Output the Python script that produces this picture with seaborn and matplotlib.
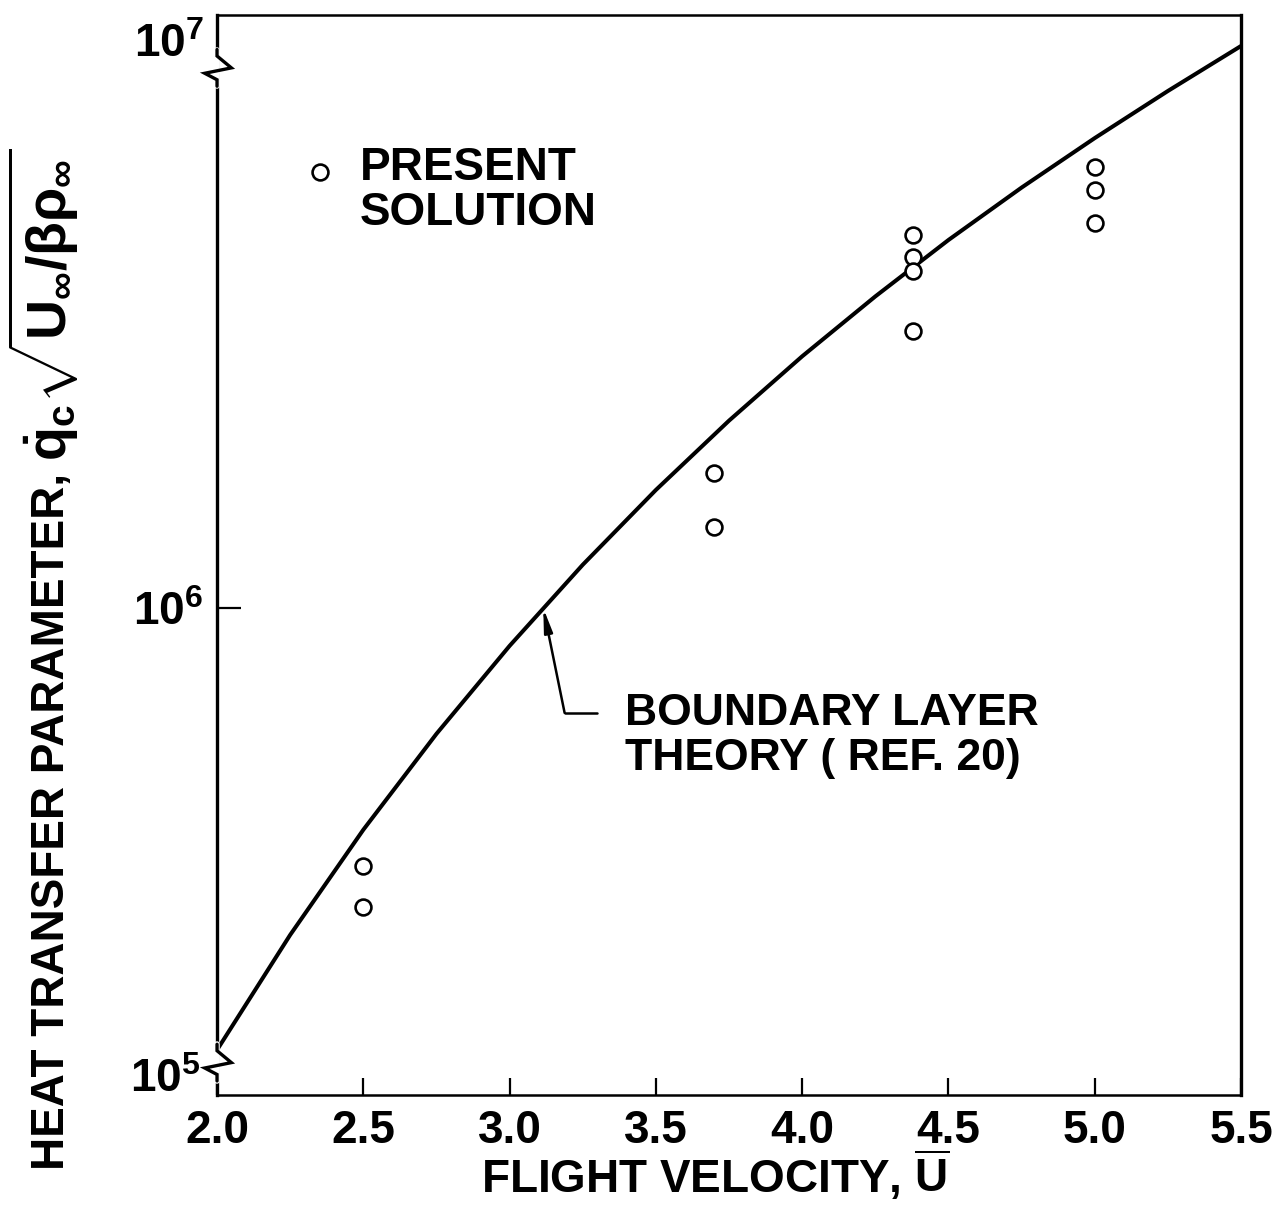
import numpy as np
import pandas as pd
import matplotlib
matplotlib.use("Agg")
import matplotlib.pyplot as plt
import seaborn as sns

# Boundary layer theory curve (Ref. 20)
theory_u = [2.0, 2.25, 2.5, 2.75, 3.0, 3.25, 3.5, 3.75, 4.0, 4.25,
            4.5, 4.75, 5.0, 5.25, 5.5]
theory_q = [1.28e5, 2.186e5, 3.565e5, 5.57e5, 8.387e5, 1.223e6, 1.732e6, 2.391e6,
            3.225e6, 4.261e6, 5.54e6, 7.07e6, 8.90e6, 1.108e7, 1.366e7]

# Present solution points
present_u = [2.5, 2.5, 3.7, 3.7, 4.38, 4.38, 4.38, 4.38, 5.0, 5.0, 5.0]
present_q = [3.01e5, 2.49e5, 1.87e6, 1.46e6, 5.67e6, 5.12e6, 4.80e6, 3.63e6, 7.78e6, 6.99e6, 6.0e6]

x_ticks = [2.0, 2.5, 3.0, 3.5, 4.0, 4.5, 5.0, 5.5]
x_tick_labels = ["2.0", "2.5", "3.0", "3.5", "4.0", "4.5", "5.0", "5.5"]

sns.set_style("ticks")
plt.rcParams["font.family"] = ["Liberation Sans", "DejaVu Sans"]
plt.rcParams["font.weight"] = "bold"
plt.rcParams["axes.labelweight"] = "bold"
plt.rcParams["mathtext.fontset"] = "custom"
plt.rcParams["mathtext.rm"] = "Liberation Sans:bold"
plt.rcParams["mathtext.it"] = "Liberation Sans:bold"
plt.rcParams["mathtext.bf"] = "Liberation Sans:bold"
for key in ["text.color", "axes.labelcolor", "xtick.color", "ytick.color"]:
    plt.rcParams[key] = "black"

fig = plt.figure(figsize=(12.85, 12.16), dpi=100)
ax = fig.add_axes([0.1689, 0.0995, 0.7969, 0.8882])

theory = pd.DataFrame({"u": theory_u, "q": theory_q})
present = pd.DataFrame({"u": present_u, "q": present_q})

sns.lineplot(data=theory, x="u", y="q", ax=ax, color="black", lw=2.9,
             sort=False, estimator=None)
sns.scatterplot(data=present, x="u", y="q", ax=ax, marker="o", s=130,
                facecolor="white", edgecolor="black", linewidth=1.9, zorder=5)

ax.set_yscale("log")
ax.set_xlim(2.0, 5.5)
ax.set_ylim(1.038e5, 1.578e7)

ax.set_xticks(x_ticks)
ax.set_xticklabels(x_tick_labels)
ax.set_yticks([1e6])
ax.set_yticklabels([r"$10^6$"])
ax.yaxis.set_minor_locator(matplotlib.ticker.NullLocator())
ax.tick_params(axis="x", direction="in", length=12, width=1.6, labelsize=33, pad=10)
ax.tick_params(axis="y", direction="in", length=17, width=1.6, labelsize=33, pad=10)

for side, lw in [("left", 2.4), ("right", 2.4), ("top", 1.8), ("bottom", 1.8)]:
    ax.spines[side].set_visible(True)
    ax.spines[side].set_linewidth(lw)
    ax.spines[side].set_color("black")

# Broken-scale marks on the left axis with the end decade labels
def axis_break(yc):
    xs = [0.0, 0.0, 0.014, -0.012, 0.0, 0.0]
    ys = [yc + 0.018, yc + 0.012, yc + 0.001, yc - 0.004, yc - 0.010, yc - 0.016]
    ax.plot([0, 0], [yc - 0.016, yc + 0.018], transform=ax.transAxes, color="white",
            lw=4, clip_on=False, zorder=6)
    ax.plot(xs, ys, transform=ax.transAxes, color="black", lw=2.4,
            clip_on=False, zorder=7, solid_joinstyle="miter")

axis_break(0.950)
axis_break(0.029)
ax.text(-0.013, 0.972, r"$10^7$", transform=ax.transAxes, ha="right", va="center",
        fontsize=33)
ax.text(-0.016, 0.014, r"$10^5$", transform=ax.transAxes, ha="right", va="center",
        fontsize=33)

ax.set_xlabel(r"FLIGHT VELOCITY, $\overline{\mathrm{U}}$", fontsize=33)
ax.xaxis.set_label_coords(0.486, -0.050)
ax.set_ylabel("")

# Vertical axis title: words plus a larger formula part
t1 = fig.text(0.050, 1 - 1170 / 1216, "HEAT TRANSFER PARAMETER,", rotation=90,
              rotation_mode="anchor", ha="left", va="baseline", fontsize=33,
              fontweight="bold")
bb = t1.get_window_extent(renderer=fig.canvas.get_renderer())
t2 = fig.text(0.034, (bb.y1 + 12) / fig.bbox.height,
              r"$\dot{q}_c\sqrt{U_\infty/\beta\rho_\infty}$",
              rotation=90, ha="center", va="bottom", fontsize=40)

# Key for the computed points
ax.scatter([0.1006], [0.855], transform=ax.transAxes, marker="o", s=130,
           facecolor="white", edgecolor="black", linewidth=1.9, clip_on=False)
ax.text(0.1396, 0.879, "PRESENT\nSOLUTION", transform=ax.transAxes, ha="left",
        va="top", fontsize=33, linespacing=1.05)

# Label and leader for the theory curve
ax.plot([3.188, 3.298], [6.14e5, 6.14e5], color="black", lw=1.8)
ax.annotate("", xy=(3.115, 1.0e6), xytext=(3.188, 6.14e5),
            arrowprops=dict(arrowstyle="-|>,head_length=1.4,head_width=0.25",
                            color="black", lw=1.8, shrinkA=0, shrinkB=0))
ax.text(3.394, 6.75e5, "BOUNDARY LAYER\nTHEORY ( REF. 20)", ha="left", va="top",
        fontsize=32, linespacing=1.15)

fig.savefig("out.png", dpi=100, facecolor="white")
